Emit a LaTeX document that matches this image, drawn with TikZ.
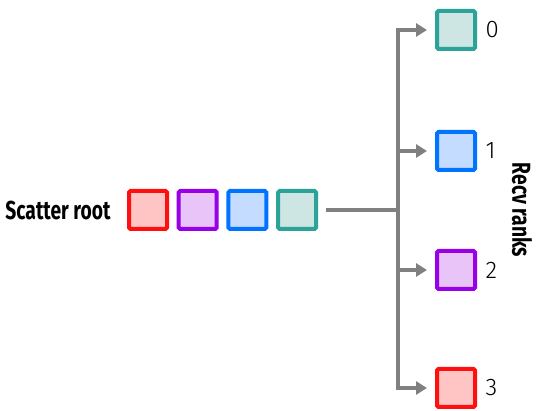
\documentclass[tikz,border=0pt]{standalone}
\usepackage{fontspec}
\setmainfont{Fira Sans}
\newfontfamily\lightfont{Fira Sans Light}
\usepackage{tikz}
\usetikzlibrary{arrows.meta, positioning}

\definecolor{rankred}{HTML}{FF1010}
\definecolor{rankredfill}{HTML}{FFC4C4}
\definecolor{rankpurple}{HTML}{9A00E8}
\definecolor{rankpurplefill}{HTML}{E8C4F8}
\definecolor{rankblue}{HTML}{0074FF}
\definecolor{rankbluefill}{HTML}{C4DCFF}
\definecolor{rankteal}{HTML}{2BA398}
\definecolor{ranktealfill}{HTML}{CDE5E3}
\definecolor{linegray}{HTML}{808080}

\begin{document}
\begin{tikzpicture}[
    x=1pt, y=-1pt,
    rankbox/.style={draw, rectangle, line width=4pt, rounded corners=1.5pt,
        minimum size=38pt, inner sep=0pt},
    ranklabel/.style={font=\lightfont\fontsize{24}{24}\selectfont, right=5pt},
    titletext/.style={font=\fontsize{26}{26}\selectfont\bfseries\addfontfeatures{FakeStretch=0.74}},
    wire/.style={draw=linegray, line width=4pt},
    arr/.style={wire, -{Triangle[length=11pt, width=13pt]}, shorten >=8pt}
]
\useasboundingbox (0,0) rectangle (539,411);

% Root buffer
\node[rankbox, draw=rankred, fill=rankredfill] (root0) at (148,210) {};
\node[rankbox, draw=rankpurple, fill=rankpurplefill, right=7.7pt of root0] (root1) {};
\node[rankbox, draw=rankblue, fill=rankbluefill, right=7.7pt of root1] (root2) {};
\node[rankbox, draw=rankteal, fill=ranktealfill, right=7.7pt of root2] (root3) {};
\node[titletext, left=13pt of root0] (rootlabel) {Scatter root};

% Receiving ranks
\node[rankbox, draw=rankteal, fill=ranktealfill] (recv0) at (456,30) {};
\node[rankbox, draw=rankblue, fill=rankbluefill] (recv1) at (456,151) {};
\node[rankbox, draw=rankpurple, fill=rankpurplefill] (recv2) at (456,270) {};
\node[rankbox, draw=rankred, fill=rankredfill] (recv3) at (456,388) {};
\node[ranklabel] at (recv0.east) {0};
\node[ranklabel] at (recv1.east) {1};
\node[ranklabel] at (recv2.east) {2};
\node[ranklabel] at (recv3.east) {3};
\node[titletext, rotate=-90] (recvlabel) at (522,210) {Recv ranks};

% Fan-out
\coordinate (hub) at (398,210);
\draw[wire] ([xshift=8pt]root3.east) -- (hub);
\draw[arr] (hub) |- (recv0.west);
\draw[arr] (hub) |- (recv1.west);
\draw[arr] (hub) |- (recv2.west);
\draw[arr] (hub) |- (recv3.west);

\end{tikzpicture}
\end{document}
